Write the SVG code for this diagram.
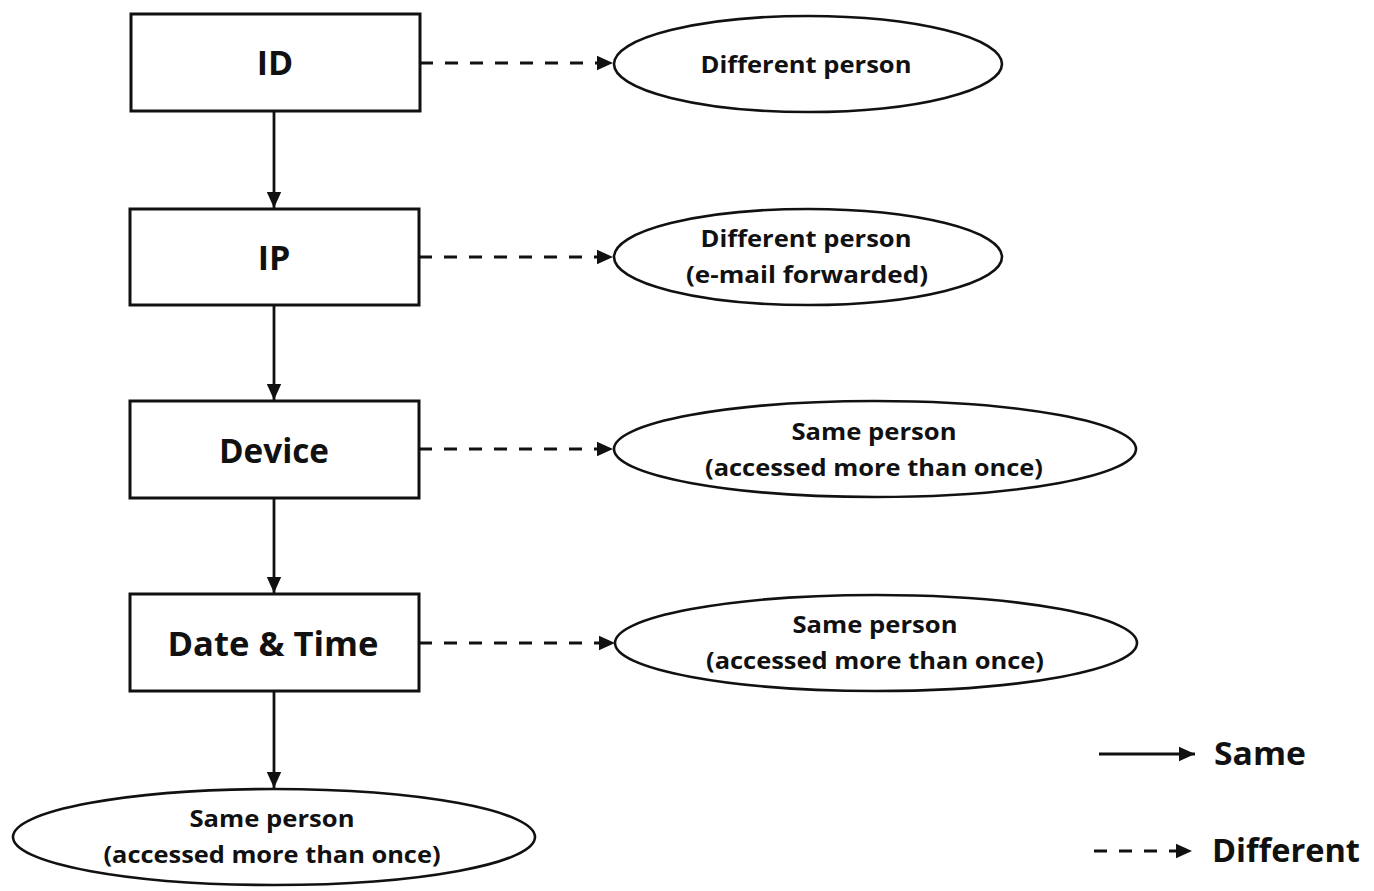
<svg xmlns="http://www.w3.org/2000/svg" width="1374" height="891" viewBox="0 0 1374 891">
<style>
.box{fill:#fff;stroke:#111;stroke-width:3}
.ell{fill:#fff;stroke:#111;stroke-width:2.6}
.bt{font-family:"Open Sans","Liberation Sans",sans-serif;font-weight:bold;font-size:34px;fill:#111;text-anchor:middle}
.et{font-family:"Open Sans","Liberation Sans",sans-serif;font-weight:bold;font-size:24px;fill:#111;text-anchor:middle}
.lt{font-family:"Open Sans","Liberation Sans",sans-serif;font-weight:bold;font-size:32px;fill:#111}
.solid{stroke:#111;stroke-width:2.8;fill:none}
.dash{stroke:#111;stroke-width:3;fill:none;stroke-dasharray:13 12}
</style>
<defs>
<marker id="ah" viewBox="0 0 10 10" refX="10" refY="5" markerWidth="16" markerHeight="16" orient="auto" markerUnits="userSpaceOnUse">
<path d="M0,0.5 L10,5 L0,9.5 z" fill="#111"/>
</marker>
</defs>
<rect width="1374" height="891" fill="#fff"/>
<g id="connectors">
<line class="solid" x1="274" y1="111" x2="274" y2="208" marker-end="url(#ah)"/>
<line class="solid" x1="274" y1="305" x2="274" y2="400" marker-end="url(#ah)"/>
<line class="solid" x1="274" y1="498" x2="274" y2="593" marker-end="url(#ah)"/>
<line class="solid" x1="274" y1="691" x2="274" y2="788" marker-end="url(#ah)"/>
<line class="dash" x1="420" y1="63" x2="613" y2="63" marker-end="url(#ah)"/>
<line class="dash" x1="419" y1="257" x2="613" y2="257" marker-end="url(#ah)"/>
<line class="dash" x1="419" y1="449" x2="613" y2="449" marker-end="url(#ah)"/>
<line class="dash" x1="419" y1="643" x2="615" y2="643" marker-end="url(#ah)"/>
</g>
<g id="id">
<rect class="box" x="131" y="14" width="289" height="97"/>
<text class="bt" x="275" y="75">ID</text>
</g>
<g id="ip">
<rect class="box" x="130" y="209" width="289" height="96"/>
<text class="bt" x="274" y="270">IP</text>
</g>
<g id="device">
<rect class="box" x="130" y="401" width="289" height="97"/>
<text class="bt" x="274" y="463" textLength="110" lengthAdjust="spacingAndGlyphs">Device</text>
</g>
<g id="datetime">
<rect class="box" x="130" y="594" width="289" height="97"/>
<text class="bt" x="273" y="656" textLength="211" lengthAdjust="spacingAndGlyphs">Date &amp; Time</text>
</g>
<g id="e1">
<ellipse class="ell" cx="808" cy="64" rx="194" ry="48"/>
<text class="et" x="806" y="73" textLength="211" lengthAdjust="spacingAndGlyphs">Different person</text>
</g>
<g id="e2">
<ellipse class="ell" cx="808" cy="257" rx="194" ry="48"/>
<text class="et" x="806" y="247" textLength="211" lengthAdjust="spacingAndGlyphs">Different person</text>
<text class="et" x="807" y="283" textLength="242" lengthAdjust="spacingAndGlyphs">(e-mail forwarded)</text>
</g>
<g id="e3">
<ellipse class="ell" cx="875" cy="449" rx="261" ry="48"/>
<text class="et" x="874" y="440" textLength="165" lengthAdjust="spacingAndGlyphs">Same person</text>
<text class="et" x="874" y="476" textLength="338" lengthAdjust="spacingAndGlyphs">(accessed more than once)</text>
</g>
<g id="e4">
<ellipse class="ell" cx="876" cy="643" rx="261" ry="48"/>
<text class="et" x="875" y="633" textLength="165" lengthAdjust="spacingAndGlyphs">Same person</text>
<text class="et" x="875" y="669" textLength="338" lengthAdjust="spacingAndGlyphs">(accessed more than once)</text>
</g>
<g id="e5">
<ellipse class="ell" cx="274" cy="837" rx="261" ry="48"/>
<text class="et" x="272" y="827" textLength="165" lengthAdjust="spacingAndGlyphs">Same person</text>
<text class="et" x="272" y="863" textLength="337" lengthAdjust="spacingAndGlyphs">(accessed more than once)</text>
</g>
<g id="legend">
<line class="solid" x1="1099" y1="754" x2="1195" y2="754" marker-end="url(#ah)"/>
<line class="dash" x1="1094" y1="851" x2="1192" y2="851" marker-end="url(#ah)"/>
<text class="lt" x="1214" y="765" textLength="92" lengthAdjust="spacingAndGlyphs">Same</text>
<text class="lt" x="1212" y="862" textLength="148" lengthAdjust="spacingAndGlyphs">Different</text>
</g>
</svg>
